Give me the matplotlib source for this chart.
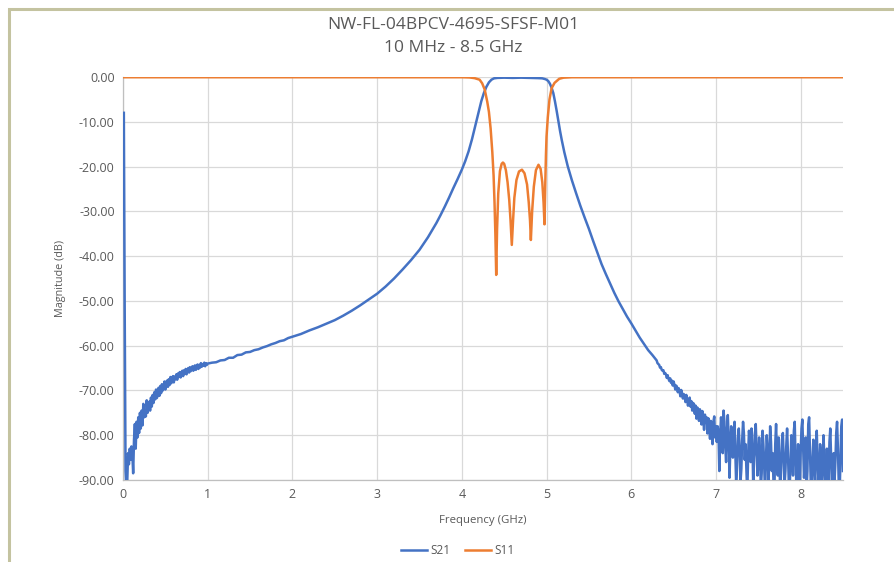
import numpy as np
import matplotlib
matplotlib.use("Agg")
import matplotlib.pyplot as plt
from matplotlib.patches import Rectangle
from matplotlib.ticker import FuncFormatter

plt.rcParams["font.family"] = ["Open Sans", "DejaVu Sans"]

title_1 = "NW-FL-04BPCV-4695-SFSF-M01"
title_2 = "10 MHz - 8.5 GHz"
x_label = "Frequency (GHz)"
y_label = "Magnitude (dB)"
x_ticks = [0, 1, 2, 3, 4, 5, 6, 7, 8]
y_ticks = [0, -10, -20, -30, -40, -50, -60, -70, -80, -90]

# S21: start-up spike near 10 MHz
s21_start_f = [0.01, 0.02, 0.03]
s21_start_db = [-8.0, -52.0, -88.0]

# S21: noisy low band, 0.04 .. 1.00 GHz in 10 MHz steps
s21_low_db = [
    -92.0, -90.5, -84.0, -86.5, -83.0, -85.5, -82.5, -84.0, -88.5, -81.0,
    -77.5, -83.0, -77.0, -80.5, -76.0, -79.5, -75.0, -78.5, -74.5, -77.8,
    -73.0, -76.0, -74.5, -75.8, -72.2, -75.0, -73.5, -72.5, -74.5, -71.6,
    -73.6, -71.0, -72.8, -70.4, -72.0, -69.8, -71.7, -70.9, -69.4, -71.2,
    -69.0, -70.6, -68.6, -70.0, -69.4, -68.0, -69.8, -68.3, -67.8, -69.2,
    -67.5, -68.8, -67.0, -68.4, -67.8, -66.8, -68.2, -66.9, -67.5, -66.4,
    -67.6, -66.2, -66.9, -65.9, -67.1, -66.0, -65.6, -66.8, -65.5, -66.3,
    -65.2, -66.4, -65.6, -65.0, -66.0, -64.8, -65.7, -65.2, -64.6, -65.6,
    -64.8, -64.4, -65.4, -64.6, -64.2, -65.2, -64.3, -64.9, -63.9, -64.7,
    -64.1, -64.5, -63.8, -64.6, -63.9, -64.3, -64.0,
]

# S21: smoother part, 1.05 .. 6.25 GHz
s21_mid_f = [
    1.05, 1.10, 1.15, 1.20, 1.25, 1.30, 1.35, 1.40, 1.45, 1.50, 1.55, 1.60,
    1.65, 1.70, 1.75, 1.80, 1.85, 1.90, 1.95, 2.00, 2.10, 2.20, 2.30, 2.40,
    2.50, 2.60, 2.70, 2.80, 2.90, 3.00, 3.10, 3.20, 3.30, 3.40, 3.50, 3.60,
    3.70, 3.75, 3.80, 3.85, 3.90, 3.95, 4.00, 4.04, 4.08, 4.12, 4.16, 4.20,
    4.23, 4.26, 4.29, 4.32, 4.35, 4.38, 4.42, 4.50, 4.60, 4.70, 4.80, 4.90,
    4.95, 4.98, 5.00, 5.02, 5.04, 5.06, 5.08, 5.10, 5.12, 5.14, 5.16, 5.18,
    5.21, 5.25, 5.30, 5.35, 5.40, 5.45, 5.50, 5.55, 5.60, 5.65, 5.70, 5.75,
    5.80, 5.85, 5.90, 5.95, 6.00, 6.05, 6.10, 6.15, 6.20, 6.25,
]
s21_mid_db = [
    -63.8, -63.7, -63.3, -63.2, -62.7, -62.7, -62.1, -62.0, -61.5, -61.4, -61.0, -60.8,
    -60.4, -60.1, -59.7, -59.4, -59.0, -58.8, -58.3, -58.0, -57.4, -56.6, -55.9, -55.1,
    -54.3, -53.3, -52.2, -51.0, -49.7, -48.4, -46.8, -45.0, -43.0, -40.9, -38.6, -35.8,
    -32.6, -30.8, -28.9, -26.9, -24.8, -22.8, -20.7, -18.8, -16.6, -13.9, -10.8, -7.6,
    -5.4, -3.6, -2.2, -1.2, -0.6, -0.3, -0.2, -0.15, -0.2, -0.15, -0.2, -0.25,
    -0.3, -0.45, -0.6, -0.9, -1.5, -2.4, -3.6, -5.5, -7.6, -9.9, -12.1, -14.1,
    -16.8, -19.9, -23.1, -26.0, -28.8, -31.4, -33.9, -36.6, -39.2, -41.8, -44.0, -46.1,
    -48.2, -50.1, -51.8, -53.5, -55.0, -56.6, -58.2, -59.6, -61.0, -62.1,
]

# S21: noisy upper band, 6.30 .. 8.50 GHz in 10 MHz steps
s21_high_db = [
    -63.3, -63.9, -64.1, -64.3, -64.9, -64.8, -65.4, -65.6, -65.5, -66.3,
    -66.1, -66.4, -67.2, -66.6, -67.4, -67.9, -67.3, -68.3, -67.8, -68.9,
    -68.0, -68.7, -69.8, -68.9, -69.2, -70.4, -69.5, -70.1, -71.3, -69.9,
    -70.6, -71.8, -70.8, -71.2, -72.6, -71.0, -72.0, -73.4, -72.1, -71.6,
    -73.6, -72.4, -74.5, -72.8, -73.0, -75.2, -73.4, -76.3, -73.8, -74.4,
    -76.8, -74.2, -75.0, -77.6, -74.6, -76.4, -78.8, -75.4, -77.2, -76.0,
    -79.6, -76.2, -77.5, -80.8, -76.8, -78.4, -82.0, -77.0, -75.8, -80.5, -78.0,
    -81.5, -78.0, -79.5, -88.0, -80.0, -76.0, -78.5, -84.0, -74.5, -77.0,
    -82.5, -86.0, -79.0, -75.5, -80.5, -89.5, -83.0, -78.0, -81.5, -85.0,
    -79.5, -77.0, -84.5, -92.0, -86.0, -80.5, -78.5, -83.0, -90.5, -87.5,
    -81.0, -77.0, -79.5, -85.5, -82.0, -88.0, -93.0, -84.5, -79.0, -81.5,
    -86.0, -78.5, -80.0, -91.5, -85.0, -82.5, -77.5, -83.0, -89.0, -86.5,
    -80.5, -84.0, -92.0, -88.5, -79.0, -82.0, -87.0, -93.0, -85.5, -80.0,
    -83.5, -90.0, -86.0, -78.0, -81.5, -88.0, -84.0, -91.0, -92.5, -82.0,
    -77.5, -84.5, -89.0, -80.5, -86.5, -93.0, -87.0, -81.0, -79.5, -85.0,
    -91.0, -88.0, -82.5, -78.5, -84.0, -90.5, -92.0, -86.5, -80.0, -83.5,
    -89.0, -79.0, -77.0, -85.5, -91.5, -87.0, -82.0, -88.5, -93.0, -84.0,
    -78.5, -76.5, -83.0, -89.5, -86.0, -80.5, -92.0, -88.0, -77.5, -76.0,
    -84.0, -91.0, -93.0, -85.5, -81.0, -87.5, -90.0, -83.5, -79.0, -86.0,
    -92.5, -88.5, -82.0, -84.5, -91.0, -87.0, -80.0, -85.5, -93.0, -89.0,
    -83.0, -86.5, -90.5, -81.5, -78.5, -85.0, -92.0, -88.0, -84.0, -90.5,
    -86.0, -79.5, -77.0, -83.0, -91.0, -93.0, -85.5, -78.0, -76.5, -88.0,
]

s11_f = [
    0.01, 4.00, 4.09, 4.15, 4.21, 4.24, 4.27, 4.30, 4.32, 4.34, 4.36, 4.375,
    4.386, 4.396, 4.406, 4.416, 4.43, 4.45, 4.47, 4.485, 4.50, 4.52, 4.54, 4.56,
    4.575, 4.59, 4.605, 4.62, 4.645, 4.675, 4.71, 4.74, 4.77, 4.79, 4.805, 4.815,
    4.83, 4.85, 4.875, 4.905, 4.93, 4.95, 4.965, 4.976, 4.985, 4.993, 5.00, 5.015,
    5.035, 5.06, 5.095, 5.15, 5.20, 5.30, 8.50,
]
s11_db = [
    -0.05, -0.05, -0.1, -0.25, -0.6, -1.4, -2.8, -5.5, -7.8, -11.5, -16.8, -22.0,
    -28.0, -35.0, -44.2, -34.0, -26.0, -21.0, -19.4, -19.1, -19.4, -20.8, -23.5, -27.5,
    -32.0, -37.5, -32.0, -27.0, -23.0, -21.1, -20.7, -21.5, -24.0, -28.0, -32.0, -36.4,
    -30.0, -24.5, -20.8, -19.6, -20.5, -23.5, -28.0, -32.9, -24.0, -17.5, -13.3, -9.0,
    -5.0, -2.5, -1.3, -0.4, -0.15, -0.05, -0.05,
]

low_f = np.round(np.arange(0.04, 1.005, 0.01), 2)
high_f = np.round(np.arange(6.30, 8.505, 0.01), 2)
s21_f = np.concatenate([s21_start_f, low_f, s21_mid_f, high_f])
s21_db = np.concatenate([s21_start_db, s21_low_db, s21_mid_db, s21_high_db])

grey = "#595959"
fig = plt.figure(figsize=(8.94, 5.62), dpi=100)
ax = fig.add_axes([123 / 894, 1 - 480 / 562, 720 / 894, 403 / 562])

ax.plot(s21_f, s21_db, color="#4472C4", lw=1.8, label="S21", zorder=3)
ax.plot(s11_f, s11_db, color="#ED7D31", lw=1.8, label="S11", zorder=4)

ax.set_xlim(0, 8.5)
ax.set_ylim(-90, 0)
ax.set_xticks(x_ticks)
ax.set_yticks(y_ticks)
ax.yaxis.set_major_formatter(FuncFormatter(lambda v, p: f"{abs(v):.2f}" if v == 0 else f"{v:.2f}"))
ax.grid(True, color="#D9D9D9", lw=0.9)
ax.set_axisbelow(True)
ax.tick_params(length=0, labelsize=9, colors=grey, pad=6)
for side in ["top", "right"]:
    ax.spines[side].set_visible(False)
for side in ["left", "bottom"]:
    ax.spines[side].set_color("#BFBFBF")
    ax.spines[side].set_linewidth(0.9)

ax.set_xlabel(x_label, fontsize=8.2, color=grey, labelpad=10)
ax.set_ylabel(y_label, fontsize=7.8, color=grey, labelpad=9)

fig.text(453 / 894, 1 - 25 / 562, title_1, ha="center", va="center", fontsize=12.5, color=grey)
fig.text(453 / 894, 1 - 48 / 562, title_2, ha="center", va="center", fontsize=12.5, color=grey)

fig.legend(loc="center", bbox_to_anchor=(458 / 894, 1 - 551 / 562), ncol=2, frameon=False,
           fontsize=8.5, labelcolor=grey, handlelength=2.2, columnspacing=1.2, handletextpad=0.3)

fig.patches.append(Rectangle((8.5 / 894, -0.1), 1.2, 1 - 8.5 / 562 + 0.1, transform=fig.transFigure,
                             fill=False, edgecolor="#C4C3A0", lw=2.2))

fig.savefig("out.png", dpi=100)
